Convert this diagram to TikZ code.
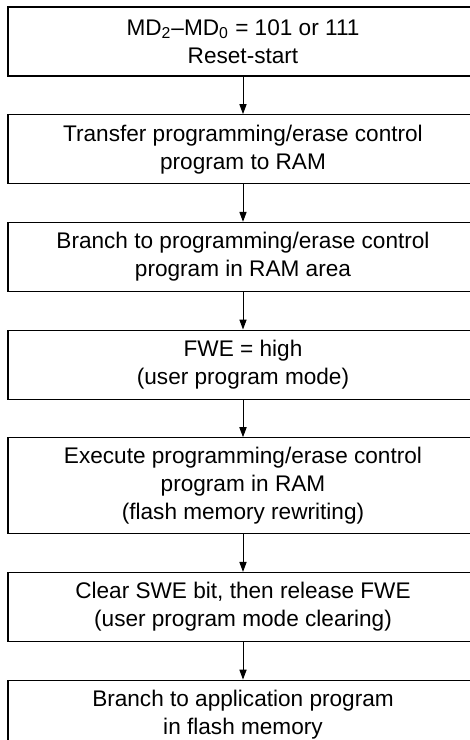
\documentclass[tikz,border=0pt]{standalone}
\usepackage{fontspec}
\setmainfont{Liberation Sans}
\usepackage{tikz}
\usetikzlibrary{positioning,arrows.meta}
\tikzset{
    >={Triangle[length=5pt,width=3.6pt]},
    flowbox/.style={rectangle, draw, line width=0.6pt, align=center, minimum width=235pt, minimum height=34.5pt, inner sep=1pt},
    tallbox/.style={flowbox, minimum height=48pt},
    link/.style={->, line width=0.5pt}
}

\begin{document}
\begin{tikzpicture}[node distance=18.75pt, font=\fontsize{11.3}{14}\selectfont]
    \clip (0,0) rectangle (235pt,-370pt);
    \node[flowbox] (reset) at (121.5pt,-20.75pt) {MD\textsubscript{2}–MD\textsubscript{0} = 101 or 111\\Reset-start};
    \node[flowbox, below=of reset] (transfer) {Transfer programming/erase control\\program to RAM};
    \node[flowbox, below=of transfer] (branch) {Branch to programming/erase control\\program in RAM area};
    \node[flowbox, below=of branch] (fwe) {FWE = high\\(user program mode)};
    \node[tallbox, below=of fwe] (execute) {Execute programming/erase control\\program in RAM\\(flash memory rewriting)};
    \node[flowbox, below=of execute] (clear) {Clear SWE bit, then release FWE\\(user program mode clearing)};
    \node[flowbox, below=of clear] (app) {Branch to application program\\in flash memory};

    \foreach \a/\b in {reset/transfer, transfer/branch, branch/fwe, fwe/execute, execute/clear, clear/app}
        \draw[link] (\a) -- (\b);
\end{tikzpicture}
\end{document}
